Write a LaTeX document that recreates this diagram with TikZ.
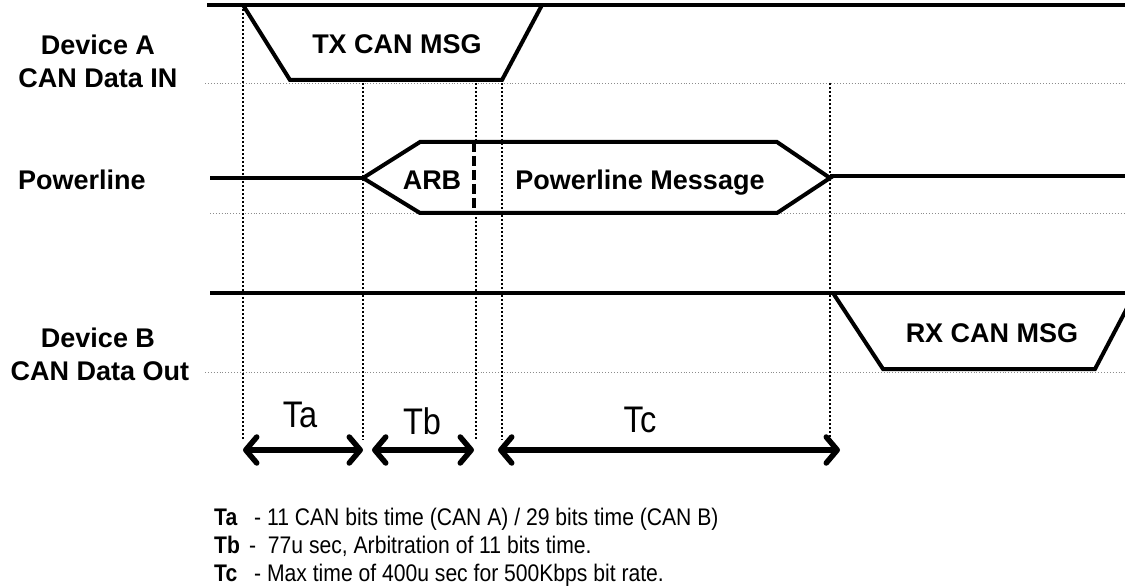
\documentclass[tikz,border=0pt]{standalone}
\usepackage{fontspec}
\setmainfont{Liberation Sans}
\newfontfamily\narrowfont[FakeStretch=0.88]{Liberation Sans}
\usetikzlibrary{arrows.meta}

\tikzset{
  signal/.style={line width=4pt, line join=miter},
  marker/.style={line width=2pt, dotted, black},
  baseline/.style={line width=0.9pt, dotted, black!45},
  span/.style={line width=5.5pt,
    {Straight Barb[length=11pt,width=26pt,round,line width=5.5pt]}-{Straight Barb[length=11pt,width=26pt,round,line width=5.5pt]}},
  boldlabel/.style={font=\bfseries\fontsize{27}{33}\selectfont, anchor=base, inner sep=0pt},
  spanlabel/.style={font=\narrowfont\fontsize{37}{42}\selectfont, inner sep=0pt},
  notes/.style={font=\narrowfont\fontsize{24}{28}\selectfont, anchor=base west, inner sep=0pt}
}

\begin{document}
\begin{tikzpicture}[x=1pt,y=-1pt]
\useasboundingbox [fill=white] (0,0) rectangle (1125,588);

% grey base lines
\draw [baseline] (205,83)--(1125,83);
\draw [baseline] (210,213)--(1125,213);
\draw [baseline] (205,372)--(1125,372);

% time markers
\draw [marker] (243,5)--(243,440);
\foreach \x in {363,502,830}
  \draw [marker] (\x,83)--(\x,440);
\draw [marker] (476,83)--(476,142);
\draw [marker] (476,213)--(476,440);

% Device A
\draw [signal] (207,5)--(1125,5);
\draw [signal] (243,5)--(290,80)--(502,80)--(542,5);
\node [boldlabel] (tx) at (397,54) {TX CAN MSG};

% Powerline
\draw [signal] (210,178)--(363,178);
\draw [signal] (363,178)--(420,142)--(777,142)--(830,178)--(777,213)--(420,213)--cycle;
\draw [signal] (830,176)--(1125,176);
\draw [line width=3.5pt, dash pattern=on 10pt off 4pt] (474,142)--(474,213);
\node [boldlabel] (arb) at (432,190) {ARB};
\node [boldlabel] (plmsg) at (640,190) {Powerline Message};

% Device B
\draw [signal] (210,293)--(1125,293);
\draw [signal] (833,293)--(883,369)--(1095,369)--(1135,293);
\node [boldlabel] (rx) at (992,342) {RX CAN MSG};

% row names
\node [boldlabel] (deva) at (98,55) {Device A};
\node [boldlabel] (devain) at (98,88) {CAN Data IN};
\node [boldlabel, anchor=base west] (pl) at (18,190) {Powerline};
\node [boldlabel] (devb) at (98,347) {Device B};
\node [boldlabel] (devbout) at (100,380) {CAN Data Out};

% time spans
\coordinate (ta-l) at (243,450);
\coordinate (ta-r) at (363,450);
\coordinate (tb-l) at (372,450);
\coordinate (tb-r) at (474,450);
\coordinate (tc-l) at (498,450);
\coordinate (tc-r) at (840,450);
\draw [span] (ta-l)--(ta-r);
\draw [span] (tb-l)--(tb-r);
\draw [span] (tc-l)--(tc-r);
\node [spanlabel] (ta) at (300,415) {Ta};
\node [spanlabel] (tb) at (422,421) {Tb};
\node [spanlabel] (tc) at (640,420) {Tc};

% notes
\node [notes] (note-a) at (214,525) {\makebox[40pt][l]{\textbf{Ta}}- 11 CAN bits time (CAN A) / 29 bits time (CAN B)};
\node [notes] (note-b) at (214,553) {\makebox[40pt][l]{\textbf{Tb}}\hspace{-5pt}- \ 77u sec, Arbitration of 11 bits time.};
\node [notes] (note-c) at (214,581) {\makebox[40pt][l]{\textbf{Tc}}- Max time of 400u sec for 500Kbps bit rate.};

%\draw [help lines, step=50] (0,0) grid (1125,588);
\end{tikzpicture}
\end{document}
